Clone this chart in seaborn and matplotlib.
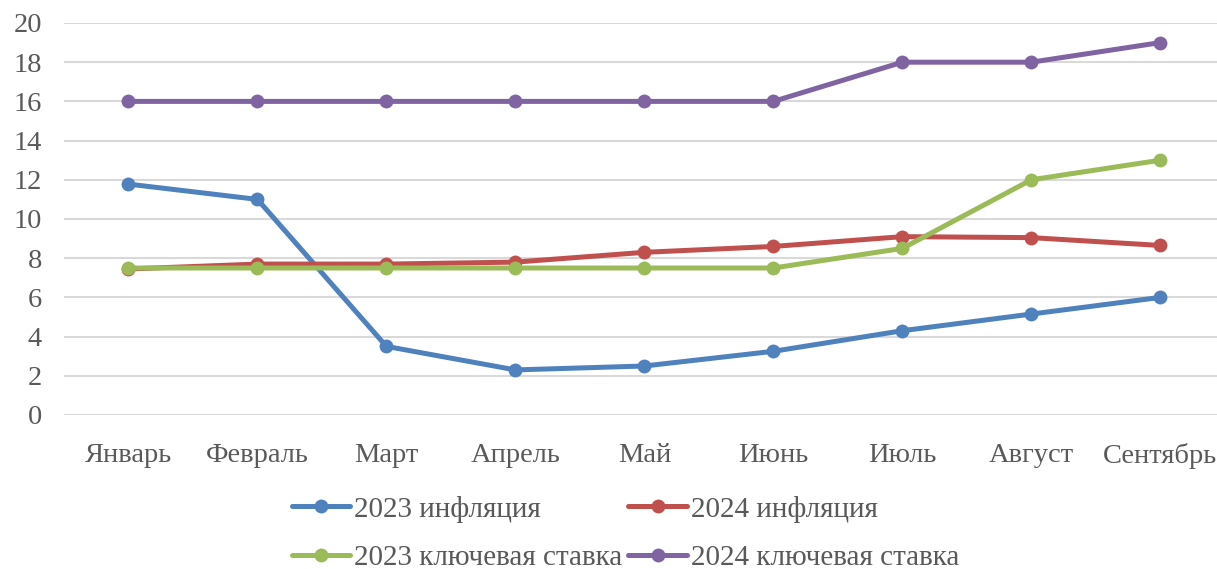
import matplotlib
matplotlib.use("Agg")
import matplotlib.pyplot as plt
import seaborn as sns
import pandas as pd

months = ["Январь", "Февраль", "Март", "Апрель", "Май", "Июнь", "Июль", "Август", "Сентябрь"]
infl_2023 = [11.78, 11.0, 3.5, 2.3, 2.5, 3.25, 4.3, 5.15, 6.0]
infl_2024 = [7.45, 7.7, 7.7, 7.8, 8.3, 8.6, 9.1, 9.05, 8.65]
rate_2023 = [7.5, 7.5, 7.5, 7.5, 7.5, 7.5, 8.5, 12, 13]
rate_2024 = [16, 16, 16, 16, 16, 16, 18, 18, 19]
labels = ["2023 инфляция", "2024 инфляция", "2023 ключевая ставка", "2024 ключевая ставка"]
colors = ["#4F81BD", "#C0504D", "#9BBB59", "#8064A2"]

df = pd.concat([
    pd.DataFrame({"month": months, "value": vals, "series": lab})
    for vals, lab in zip([infl_2023, infl_2024, rate_2023, rate_2024], labels)
])

sns.set_style("white")
plt.rcParams["font.family"] = ["Liberation Serif", "DejaVu Serif"]
fs = 20.5

fig = plt.figure(figsize=(12.17, 5.69), dpi=100)
ax = fig.add_axes([64 / 1217, 1 - 415 / 569, 1 - 64 / 1217, (415 - 23) / 569])

sns.lineplot(data=df, x="month", y="value", hue="series", palette=colors,
             marker="o", markersize=10, markeredgewidth=0, linewidth=3.6,
             sort=False, ax=ax, legend=False)

ax.set_ylim(0, 20)
ax.set_yticks(range(0, 21, 2))
ax.set_xlim(-0.5, 8.44)
ax.yaxis.grid(True, color="#D9D9D9", linewidth=1.5)
ax.set_axisbelow(True)
for s in ax.spines.values():
    s.set_visible(False)
ax.set_xlabel("")
ax.set_ylabel("")
ax.tick_params(axis="both", colors="#595959", labelsize=fs, length=0)
ax.tick_params(axis="x", pad=20)
ax.tick_params(axis="y", pad=16)

# legend filled row by row: (blue, red) then (green, purple)
order = [0, 2, 1, 3]
handles = [plt.Line2D([], [], color=colors[i], marker="o", markersize=10, markeredgewidth=0,
                      linewidth=3.6) for i in order]
leg = fig.legend(handles, [labels[i] for i in order], ncol=2, loc="center",
                 bbox_to_anchor=(0.514, 0.063), frameon=False, handlelength=2.0,
                 handletextpad=0.15, columnspacing=0.2, labelspacing=0.75, fontsize=21)
for t in leg.get_texts():
    t.set_color("#595959")

fig.savefig("out.png", dpi=100)
